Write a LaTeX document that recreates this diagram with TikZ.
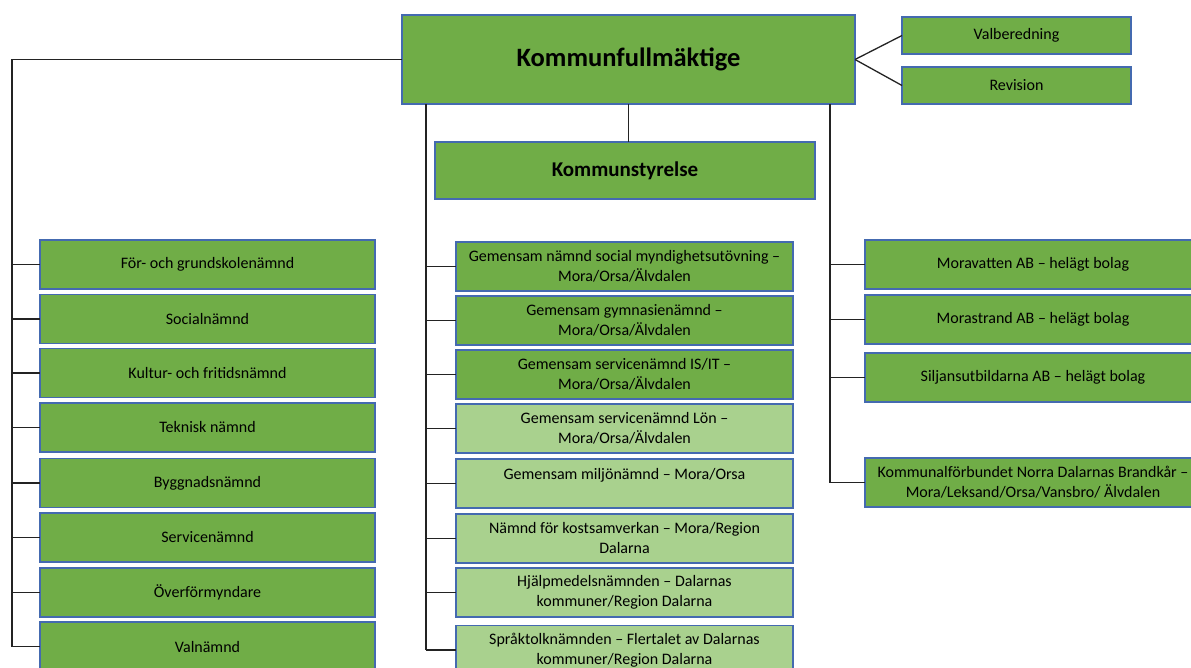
\documentclass[tikz,border=0pt]{standalone}
\usepackage{fontspec}
\setmainfont{Carlito}
\definecolor{dgreen}{RGB}{112,173,71}
\definecolor{lgreen}{RGB}{169,209,142}
\definecolor{bblue}{RGB}{68,106,176}
\definecolor{lineg}{RGB}{35,35,35}
\tikzset{
  orgbox/.style={draw=bblue, line width=1.2pt, fill=dgreen, rectangle, inner sep=0pt, outer sep=0pt,
    align=center, font=\fontsize{16}{20}\selectfont, text=black},
  lightbox/.style={orgbox, fill=lgreen},
  colbox/.style={minimum width=336pt, minimum height=49pt},
  conn/.style={draw=lineg, line width=1.3pt}
}
\begin{document}
\begin{tikzpicture}[x=1pt,y=-1pt]
\useasboundingbox (0,0) rectangle (1191,668);
% top
\node[orgbox, minimum width=453pt, minimum height=89pt, font=\fontsize{26.5}{30}\selectfont\bfseries] (kf) at (628.5,59.5) {Kommunfullmäktige};
\node[orgbox, minimum width=229pt, minimum height=37pt] (vb) at (1016.5,35.5) {Valberedning};
\node[orgbox, minimum width=229pt, minimum height=37pt] (rev) at (1016.5,85.5) {Revision};
\node[orgbox, minimum width=380pt, minimum height=57pt, font=\fontsize{21}{25}\selectfont\bfseries] (ks) at (625,170.5) {Kommunstyrelse};
% left column
\node[orgbox, colbox, minimum width=335pt] (l1) at (207.5,264.5) {För- och grundskolenämnd};
\node[orgbox, colbox, minimum width=335pt] (l2) at (207.5,319) {Socialnämnd};
\node[orgbox, colbox, minimum width=335pt] (l3) at (207.5,373) {Kultur- och fritidsnämnd};
\node[orgbox, colbox, minimum width=335pt] (l4) at (207.5,427.5) {Teknisk nämnd};
\node[orgbox, colbox, minimum width=335pt] (l5) at (207.5,483) {Byggnadsnämnd};
\node[orgbox, colbox, minimum width=335pt] (l6) at (207.5,537.5) {Servicenämnd};
\node[orgbox, colbox, minimum width=335pt] (l7) at (207.5,592.5) {Överförmyndare};
\node[orgbox, colbox, minimum width=335pt] (l8) at (207.5,646.5) {Valnämnd};
% middle column
\node[orgbox, colbox, minimum width=337pt] (m1) at (624.5,266.5) {Gemensam nämnd social myndighetsutövning –\\Mora/Orsa/Älvdalen};
\node[orgbox, colbox, minimum width=337pt] (m2) at (624.5,320.5) {Gemensam gymnasienämnd –\\Mora/Orsa/Älvdalen};
\node[orgbox, colbox, minimum width=337pt] (m3) at (624.5,374.5) {Gemensam servicenämnd IS/IT –\\Mora/Orsa/Älvdalen};
\node[lightbox, colbox, minimum width=337pt] (m4) at (624.5,428.5) {Gemensam servicenämnd Lön –\\Mora/Orsa/Älvdalen};
\node[lightbox, colbox, minimum width=337pt] (m5) at (624.5,483.5) {Gemensam miljönämnd – Mora/Orsa\\~};
\node[lightbox, colbox, minimum width=337pt] (m6) at (624.5,538.5) {Nämnd för kostsamverkan – Mora/Region\\Dalarna};
\node[lightbox, colbox, minimum width=337pt] (m7) at (624.5,592.5) {Hjälpmedelsnämnden – Dalarnas\\kommuner/Region Dalarna};
\node[lightbox, colbox, minimum width=337pt] (m8) at (624.5,650) {Språktolknämnden – Flertalet av Dalarnas\\kommuner/Region Dalarna};
% right column
\node[orgbox, colbox] (r1) at (1033,264.5) {Moravatten AB – helägt bolag};
\node[orgbox, colbox] (r2) at (1033,319.5) {Morastrand AB – helägt bolag};
\node[orgbox, colbox] (r3) at (1033,377.5) {Siljansutbildarna AB – helägt bolag};
\node[orgbox, colbox] (r4) at (1033,482.5) {Kommunalförbundet Norra Dalarnas Brandkår –\\Mora/Leksand/Orsa/Vansbro/ Älvdalen};
% bus coordinates
\coordinate (lbus) at (12,0);
\coordinate (mbus) at (426,0);
\coordinate (rbus) at (830,0);
% connectors
\draw[conn] (kf.east) -- (vb.west);
\draw[conn] (kf.east) -- (rev.west);
\draw[conn] (kf.south -| ks.north) ++(3.5,0) -- ++(0,38);
\draw[conn] (kf.west) -- (kf.west -| lbus) -- (lbus |- l8.west);
\foreach \n in {l1,l2,l3,l4,l5,l6,l7,l8} \draw[conn] (lbus |- \n.west) -- (\n.west);
\draw[conn] (kf.south -| mbus) -- (mbus |- m8.west);
\foreach \n in {m1,m2,m3,m4,m5,m6,m7,m8} \draw[conn] (mbus |- \n.west) -- (\n.west);
\draw[conn] (kf.south -| rbus) -- (rbus |- r4.west);
\foreach \n in {r1,r2,r3,r4} \draw[conn] (rbus |- \n.west) -- (\n.west);
\end{tikzpicture}
\end{document}
